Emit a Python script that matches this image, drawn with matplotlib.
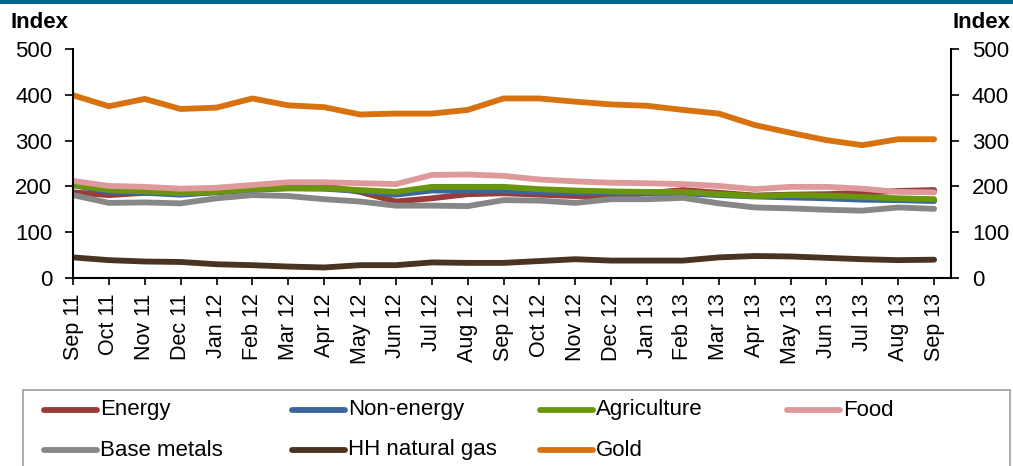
import matplotlib
matplotlib.use("Agg")
import matplotlib.pyplot as plt
from matplotlib.lines import Line2D
from matplotlib.patches import Rectangle

plt.rcParams['font.family'] = ['Liberation Sans', 'DejaVu Sans']

months = ["Sep 11", "Oct 11", "Nov 11", "Dec 11", "Jan 12", "Feb 12", "Mar 12", "Apr 12",
          "May 12", "Jun 12", "Jul 12", "Aug 12", "Sep 12", "Oct 12", "Nov 12", "Dec 12",
          "Jan 13", "Feb 13", "Mar 13", "Apr 13", "May 13", "Jun 13", "Jul 13", "Aug 13", "Sep 13"]

energy = [187, 181, 186, 185, 188, 195, 201, 201, 188, 167, 174, 183, 185,
          182, 179, 179, 185, 192, 186, 180, 182, 183, 186, 190, 192]
non_energy = [203, 188, 186, 182, 187, 192, 196, 195, 190, 182, 191, 191, 191,
              188, 186, 186, 186, 185, 181, 178, 176, 174, 171, 170, 168]
agriculture = [203, 192, 189, 185, 188, 194, 196, 196, 192, 188, 199, 199, 199,
               194, 191, 189, 188, 188, 183, 179, 181, 180, 177, 174, 172]
food = [212, 201, 199, 195, 197, 203, 209, 209, 207, 205, 225, 226, 223,
        215, 211, 208, 207, 205, 201, 194, 199, 199, 195, 188, 187]
base_metals = [181, 164, 165, 163, 174, 181, 179, 172, 167, 158, 158, 157, 170,
               169, 164, 172, 172, 175, 163, 154, 152, 149, 147, 154, 151]
hh_gas = [45, 39, 36, 35, 30, 28, 25, 23, 28, 28, 34, 33, 33,
          37, 41, 38, 38, 38, 45, 48, 47, 44, 41, 39, 40]
gold = [399, 375, 391, 369, 372, 392, 377, 373, 357, 359, 359, 367, 392,
        392, 385, 379, 376, 367, 359, 334, 317, 301, 290, 303, 303]

series_names = ["Energy", "Non-energy", "Agriculture", "Food", "Base metals", "HH natural gas", "Gold"]
series_values = [energy, non_energy, agriculture, food, base_metals, hh_gas, gold]
series_colors = ["#983B39", "#3A66A0", "#6A960C", "#DE9A9B", "#878787", "#4A3321", "#D8720F"]

yticks = [0, 100, 200, 300, 400, 500]

W, H = 1013, 466
fig = plt.figure(figsize=(W / 100, H / 100), dpi=100)

ax = fig.add_axes([73 / W, 1 - 278 / H, (951 - 73) / W, (278 - 49) / H])
x = list(range(len(months)))
for name, vals, col in zip(series_names, series_values, series_colors):
    ax.plot(x, vals, color=col, lw=4.2, solid_capstyle='round', solid_joinstyle='round', label=name)

ax.set_xlim(0, len(months) - 1 + 0.47)
ax.set_ylim(0, 500)
ax.set_yticks(yticks)
ax.set_xticks(x)
ax.set_xticklabels(months, rotation=90, fontsize=15.5)
ax.tick_params(axis='x', direction='out', length=5, width=1.2, pad=6)
ax.tick_params(axis='y', direction='out', length=6, width=1.2, labelsize=16, pad=9)
ax.spines['top'].set_visible(False)
ax.spines['right'].set_visible(False)
for s in ('left', 'bottom'):
    ax.spines[s].set_linewidth(1.5)

ax2 = ax.twinx()
ax2.set_ylim(0, 500)
ax2.set_yticks(yticks)
ax2.tick_params(axis='y', direction='out', length=6, width=1.2, labelsize=16, pad=9)
ax2.spines['top'].set_visible(False)
ax2.spines['left'].set_visible(False)
ax2.spines['bottom'].set_visible(False)
ax2.spines['right'].set_linewidth(1.5)

fig.text(10 / W, 1 - 22 / H, "Index", fontsize=16, fontweight='bold', ha='left', va='center')
fig.text(1010 / W, 1 - 22 / H, "Index", fontsize=16, fontweight='bold', ha='right', va='center')

# top banner strip
fig.add_artist(Rectangle((0, 1 - 3.5 / H), 1, 3.5 / H, transform=fig.transFigure,
                         facecolor="#00668F", edgecolor='none'))

# legend box
fig.add_artist(Rectangle((23 / W, -0.05), (1010 - 23) / W, 0.05 + (466 - 390) / H,
                         transform=fig.transFigure, facecolor='white',
                         edgecolor='#A6A6A6', lw=1.3))
col_x = [44, 292, 540, 787]
row_y = [410, 450]
for i, (name, col) in enumerate(zip(series_names, series_colors)):
    r, c = divmod(i, 4)
    x0 = col_x[c]
    y0 = 1 - row_y[r] / H
    fig.add_artist(Line2D([x0 / W, (x0 + 53) / W], [y0, y0], transform=fig.transFigure,
                          color=col, lw=4.2, solid_capstyle='round'))
    fig.text((x0 + 56) / W, y0, name, fontsize=16, ha='left', va='center')

fig.savefig("out.png", dpi=100)
